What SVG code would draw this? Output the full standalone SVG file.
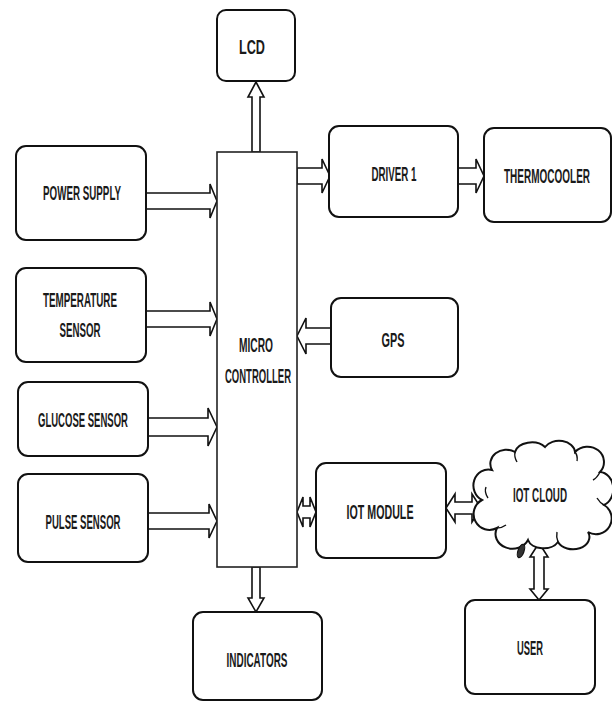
<svg xmlns="http://www.w3.org/2000/svg" width="612" height="704" viewBox="0 0 612 704">
<style>
.box{fill:#fff;stroke:#111;stroke-width:2}
.mcu{fill:#fff;stroke:#222;stroke-width:1.6}
.arr{fill:#fff;stroke:#111;stroke-width:1.6;stroke-linejoin:miter}
.t{font-family:"Liberation Sans",Arial,sans-serif;font-weight:bold;font-size:20px;fill:#1a1a1a;text-anchor:middle}
.cl{fill:#fff;stroke:#111;stroke-width:2}
.ci{fill:none;stroke:#111;stroke-width:1.4}
</style>
<rect width="612" height="704" fill="#fff"/>

<g id="connectors">
  <!-- power supply -> mcu -->
  <polygon class="arr" points="146,193 210,193 210,184 217,201 210,218 210,209 146,209"/>
  <!-- temperature -> mcu -->
  <polygon class="arr" points="146,311 210,311 210,302 217,319 210,336 210,327 146,327"/>
  <!-- glucose -> mcu -->
  <polygon class="arr" points="148,418 208,418 208,408 217,427 208,446 208,436 148,436"/>
  <!-- pulse -> mcu -->
  <polygon class="arr" points="148,513 209,513 209,504 217,521 209,538 209,529 148,529"/>
  <!-- mcu -> driver -->
  <polygon class="arr" points="297,168 322,168 322,159 330,176 322,193 322,184 297,184"/>
  <!-- driver -> thermocooler -->
  <polygon class="arr" points="458,168 476,168 476,159 484,176 476,193 476,184 458,184"/>
  <!-- gps -> mcu -->
  <polygon class="arr" points="331,328 306,328 306,318 297,336 306,354 306,344 331,344"/>
  <!-- mcu -> lcd -->
  <polygon class="arr" points="252,152 252,97 248,97 256,82 264,97 260,97 260,152"/>
  <!-- mcu -> indicators -->
  <polygon class="arr" points="252,567 252,598 248,598 256,612 264,598 260,598 260,567"/>
  <!-- mcu <-> iot module -->
  <polygon class="arr" points="297,512 303,497 303,506 310,506 310,497 316,512 310,527 310,518 303,518 303,527"/>
  <!-- iot module <-> cloud -->
  <polygon class="arr" points="446,508 455,494 455,502 472,502 472,494 481,508 472,522 472,514 455,514 455,522"/>
  <!-- cloud <-> user -->
  <polygon class="arr" points="539,543 548,557 544,557 544,589 548,589 539,600 530,589 534,589 534,557 530,557"/>
</g>

<g id="lcd">
  <rect class="box" x="217" y="10" width="78" height="71" rx="9"/>
  <text class="t" x="252" y="54" textLength="26" lengthAdjust="spacingAndGlyphs">LCD</text>
</g>
<g id="microcontroller">
  <rect class="mcu" x="217" y="152" width="80" height="415"/>
  <text class="t" x="256" y="352" textLength="34" lengthAdjust="spacingAndGlyphs">MICRO</text>
  <text class="t" x="258" y="383" textLength="66" lengthAdjust="spacingAndGlyphs">CONTROLLER</text>
</g>
<g id="driver1">
  <rect class="box" x="329" y="126" width="129" height="91" rx="10"/>
  <text class="t" x="394" y="181" textLength="45" lengthAdjust="spacingAndGlyphs">DRIVER 1</text>
</g>
<g id="thermocooler">
  <rect class="box" x="484" y="128" width="127" height="94" rx="10"/>
  <text class="t" x="547" y="183" textLength="86" lengthAdjust="spacingAndGlyphs">THERMOCOOLER</text>
</g>
<g id="power-supply">
  <rect class="box" x="16" y="146" width="130" height="94" rx="10"/>
  <text class="t" x="82" y="200" textLength="78" lengthAdjust="spacingAndGlyphs">POWER SUPPLY</text>
</g>
<g id="temperature-sensor">
  <rect class="box" x="16" y="268" width="130" height="94" rx="10"/>
  <text class="t" x="80" y="307" textLength="74" lengthAdjust="spacingAndGlyphs">TEMPERATURE</text>
  <text class="t" x="80" y="337" textLength="41" lengthAdjust="spacingAndGlyphs">SENSOR</text>
</g>
<g id="gps">
  <rect class="box" x="331" y="298" width="127" height="79" rx="10"/>
  <text class="t" x="393" y="347" textLength="23" lengthAdjust="spacingAndGlyphs">GPS</text>
</g>
<g id="glucose-sensor">
  <rect class="box" x="18" y="382" width="130" height="74" rx="10"/>
  <text class="t" x="83" y="427" textLength="90" lengthAdjust="spacingAndGlyphs">GLUCOSE SENSOR</text>
</g>
<g id="pulse-sensor">
  <rect class="box" x="18" y="474" width="130" height="88" rx="10"/>
  <text class="t" x="83" y="529" textLength="75" lengthAdjust="spacingAndGlyphs">PULSE SENSOR</text>
</g>
<g id="iot-module">
  <rect class="box" x="316" y="463" width="130" height="95" rx="10"/>
  <text class="t" x="380" y="519" textLength="67" lengthAdjust="spacingAndGlyphs">IOT MODULE</text>
</g>
<g id="iot-cloud">
  <path class="cl" d="M482,500 A15,16 0 0 1 492,470 A16,14 0 0 1 515,452 A17,12 0 0 1 545,447 A16,12 0 0 1 575,452 A15,14 0 0 1 600,472 A14,17 0 0 1 604,505 A15,15 0 0 1 588,532 A16,12 0 0 1 558,542 A16,11 0 0 1 528,540 A15,13 0 0 1 497,528 A14,14 0 0 1 482,500 Z"/>
  <path class="ci" d="M488,498 Q484,492 486,487"/>
  <path class="ci" d="M515,452 Q514,457 517,462"/>
  <path class="ci" d="M575,452 Q578,456 577,461"/>
  <path class="ci" d="M600,472 Q597,478 593,480"/>
  <path class="ci" d="M604,505 Q600,503 597,498"/>
  <path class="ci" d="M558,542 Q556,537 557,532"/>
  <path class="ci" d="M497,528 Q502,528 506,525"/>
  <ellipse cx="521" cy="551" rx="3" ry="7" transform="rotate(20 521 551)" fill="#333" stroke="#111" stroke-width="1.2"/>
  <text class="t" x="540" y="502" textLength="54" lengthAdjust="spacingAndGlyphs">IOT CLOUD</text>
</g>
<g id="user">
  <rect class="box" x="465" y="600" width="130" height="94" rx="10"/>
  <text class="t" x="530" y="655" textLength="26" lengthAdjust="spacingAndGlyphs">USER</text>
</g>
<g id="indicators">
  <rect class="box" x="193" y="612" width="129" height="88" rx="10"/>
  <text class="t" x="257" y="667" textLength="61" lengthAdjust="spacingAndGlyphs">INDICATORS</text>
</g>
</svg>
